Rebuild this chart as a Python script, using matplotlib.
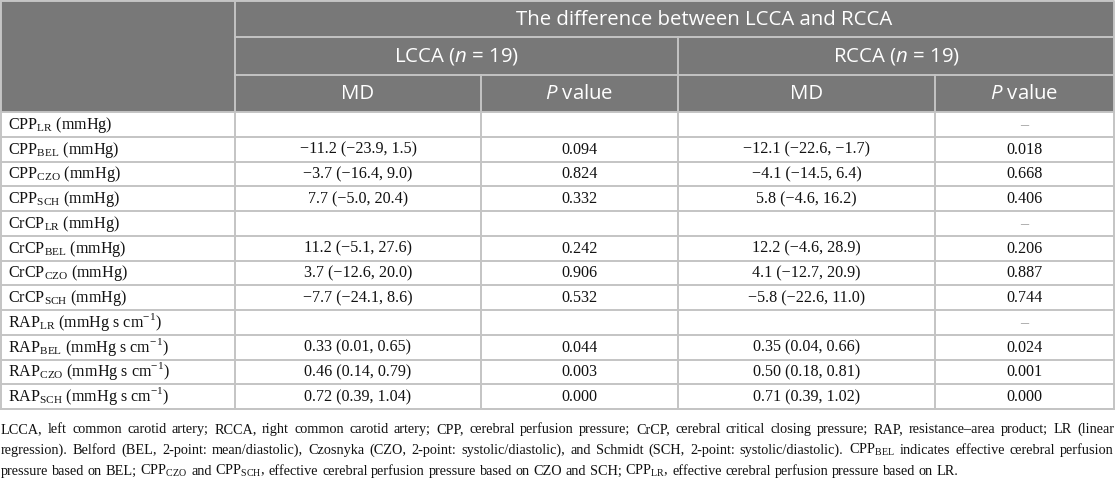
import matplotlib
matplotlib.use("Agg")
import matplotlib.pyplot as plt
from matplotlib.patches import Rectangle

plt.rcParams['mathtext.fontset'] = 'custom'
plt.rcParams['mathtext.rm'] = 'Liberation Serif'
plt.rcParams['mathtext.it'] = 'Open Sans:italic'
plt.rcParams['mathtext.bf'] = 'Liberation Serif:bold'

# ---------------- data ----------------
title = "The difference between LCCA and RCCA"
groups = ["LCCA ($\\mathit{n}$ = 19)", "RCCA ($\\mathit{n}$ = 19)"]
subcols = ["MD", "$\\mathit{P}$ value", "MD", "$\\mathit{P}$ value"]

row_labels = [
    "CPP$_{\\mathrm{LR}}$ (mmHg)",
    "CPP$_{\\mathrm{BEL}}$ (mmHg)",
    "CPP$_{\\mathrm{CZO}}$ (mmHg)",
    "CPP$_{\\mathrm{SCH}}$ (mmHg)",
    "CrCP$_{\\mathrm{LR}}$ (mmHg)",
    "CrCP$_{\\mathrm{BEL}}$ (mmHg)",
    "CrCP$_{\\mathrm{CZO}}$ (mmHg)",
    "CrCP$_{\\mathrm{SCH}}$ (mmHg)",
    "RAP$_{\\mathrm{LR}}$ (mmHg s cm$^{\\mathrm{-1}}$)",
    "RAP$_{\\mathrm{BEL}}$ (mmHg s cm$^{\\mathrm{-1}}$)",
    "RAP$_{\\mathrm{CZO}}$ (mmHg s cm$^{\\mathrm{-1}}$)",
    "RAP$_{\\mathrm{SCH}}$ (mmHg s cm$^{\\mathrm{-1}}$)",
]
lcca_md = ["", "−11.2 (−23.9, 1.5)", "−3.7 (−16.4, 9.0)", "7.7 (−5.0, 20.4)",
           "", "11.2 (−5.1, 27.6)", "3.7 (−12.6, 20.0)", "−7.7 (−24.1, 8.6)",
           "", "0.33 (0.01, 0.65)", "0.46 (0.14, 0.79)", "0.72 (0.39, 1.04)"]
lcca_p = ["", "0.094", "0.824", "0.332", "", "0.242", "0.906", "0.532",
          "", "0.044", "0.003", "0.000"]
rcca_md = ["", "−12.1 (−22.6, −1.7)", "−4.1 (−14.5, 6.4)", "5.8 (−4.6, 16.2)",
           "", "12.2 (−4.6, 28.9)", "4.1 (−12.7, 20.9)", "−5.8 (−22.6, 11.0)",
           "", "0.35 (0.04, 0.66)", "0.50 (0.18, 0.81)", "0.71 (0.39, 1.02)"]
rcca_p = ["–", "0.018", "0.668", "0.406", "–", "0.206", "0.887", "0.744",
          "–", "0.024", "0.001", "0.000"]

footnote = [
    "LCCA, left common carotid artery; RCCA, right common carotid artery; CPP, cerebral perfusion pressure; "
    "CrCP, cerebral critical closing pressure; RAP, resistance–area product; LR (linear",
    "regression). Belford (BEL, 2-point: mean/diastolic), Czosnyka (CZO, 2-point: systolic/diastolic), and Schmidt "
    "(SCH, 2-point: systolic/diastolic). CPP$_{\\mathrm{BEL}}$ indicates effective cerebral perfusion",
    "pressure based on BEL; CPP$_{\\mathrm{CZO}}$ and CPP$_{\\mathrm{SCH}}$, effective cerebral perfusion pressure "
    "based on CZO and SCH; CPP$_{\\mathrm{LR}}$, effective cerebral perfusion pressure based on LR.",
]

# ---------------- layout ----------------
W, H = 1116, 480
fig = plt.figure(figsize=(W / 100, H / 100), dpi=100)
ax = fig.add_axes([0, 0, 1, 1])
ax.set_xlim(0, W)
ax.set_ylim(H, 0)
ax.axis("off")

col_x = [1, 235, 481, 678, 935, 1114]
head_y = [1, 37, 74.5, 112]
row_h = 24.75
n_rows = len(row_labels)
table_bottom = head_y[-1] + n_rows * row_h

HEAD_BG = "#787878"
GRID = "#c4c4c4"
HEAD_FONT = "Open Sans"
BODY_FONT = "Liberation Serif"
HEAD_SIZE = 14.7
BODY_SIZE = 11.6
FOOT_SIZE = 10.3

ax.add_patch(Rectangle((col_x[0], head_y[0]), col_x[-1] - col_x[0], head_y[-1] - head_y[0],
                       facecolor=HEAD_BG, edgecolor="none", zorder=0))

lw = 1.4
ax.plot([col_x[1], col_x[-1]], [head_y[1]] * 2, color=GRID, lw=lw, zorder=2)
ax.plot([col_x[1], col_x[-1]], [head_y[2]] * 2, color=GRID, lw=lw, zorder=2)
ax.plot([col_x[1], col_x[1]], [head_y[0], table_bottom], color=GRID, lw=lw, zorder=2)
ax.plot([col_x[3], col_x[3]], [head_y[1], table_bottom], color=GRID, lw=lw, zorder=2)
for cx in (col_x[2], col_x[4]):
    ax.plot([cx, cx], [head_y[2], table_bottom], color=GRID, lw=lw, zorder=2)
for i in range(n_rows + 1):
    y = head_y[-1] + i * row_h
    ax.plot([col_x[0], col_x[-1]], [y, y], color=GRID, lw=lw, zorder=2)
ax.plot([col_x[0], col_x[-1], col_x[-1], col_x[0], col_x[0]],
        [head_y[0], head_y[0], table_bottom, table_bottom, head_y[0]],
        color=GRID, lw=lw, zorder=3)

def htext(xc, y0, y1, s):
    ax.text(xc, (y0 + y1) / 2 + 6, s, ha="center", va="baseline",
            color="white", fontsize=HEAD_SIZE, family=HEAD_FONT, zorder=4)

htext(704, head_y[0], head_y[1], title)
htext((col_x[1] + col_x[3]) / 2, head_y[1], head_y[2], groups[0])
htext((col_x[3] + col_x[5]) / 2, head_y[1], head_y[2], groups[1])
for j, s in enumerate(subcols):
    htext((col_x[j + 1] + col_x[j + 2]) / 2, head_y[2], head_y[3], s)

# body
columns = [lcca_md, lcca_p, rcca_md, rcca_p]
for i, lab in enumerate(row_labels):
    yb = head_y[-1] + (i + 0.5) * row_h + 4.5
    ax.text(col_x[0] + 7, yb, lab, ha="left", va="baseline", color="#111111",
            fontsize=BODY_SIZE, family=BODY_FONT, zorder=4)
    for j, col in enumerate(columns):
        s = col[i]
        if not s:
            continue
        color = "#999999" if s == "–" else "#111111"
        ax.text((col_x[j + 1] + col_x[j + 2]) / 2, yb, s, ha="center", va="baseline",
                color=color, fontsize=BODY_SIZE, family=BODY_FONT, zorder=4)

# footnote, justified except last line
renderer = fig.canvas.get_renderer()
foot_base = [433, 454, 475]
x_left, x_right = 1, 1114
sp = ax.text(0, 0, "a a", fontsize=FOOT_SIZE, family=BODY_FONT)
sp2 = ax.text(0, 0, "aa", fontsize=FOOT_SIZE, family=BODY_FONT)
space_w = sp.get_window_extent(renderer).width - sp2.get_window_extent(renderer).width
sp.remove(); sp2.remove()
for k, line in enumerate(footnote):
    words = line.split(" ")
    texts = []
    for w in words:
        t = ax.text(0, foot_base[k], w, ha="left", va="baseline", color="#111111",
                    fontsize=FOOT_SIZE, family=BODY_FONT)
        texts.append(t)
    widths = [t.get_window_extent(renderer).width for t in texts]
    if k < len(footnote) - 1:
        gap = (x_right - x_left - sum(widths)) / (len(words) - 1)
    else:
        gap = space_w
    x = x_left
    for t, wdt in zip(texts, widths):
        t.set_x(x)
        x += wdt + gap

fig.savefig("out.png", dpi=100, facecolor="white")
